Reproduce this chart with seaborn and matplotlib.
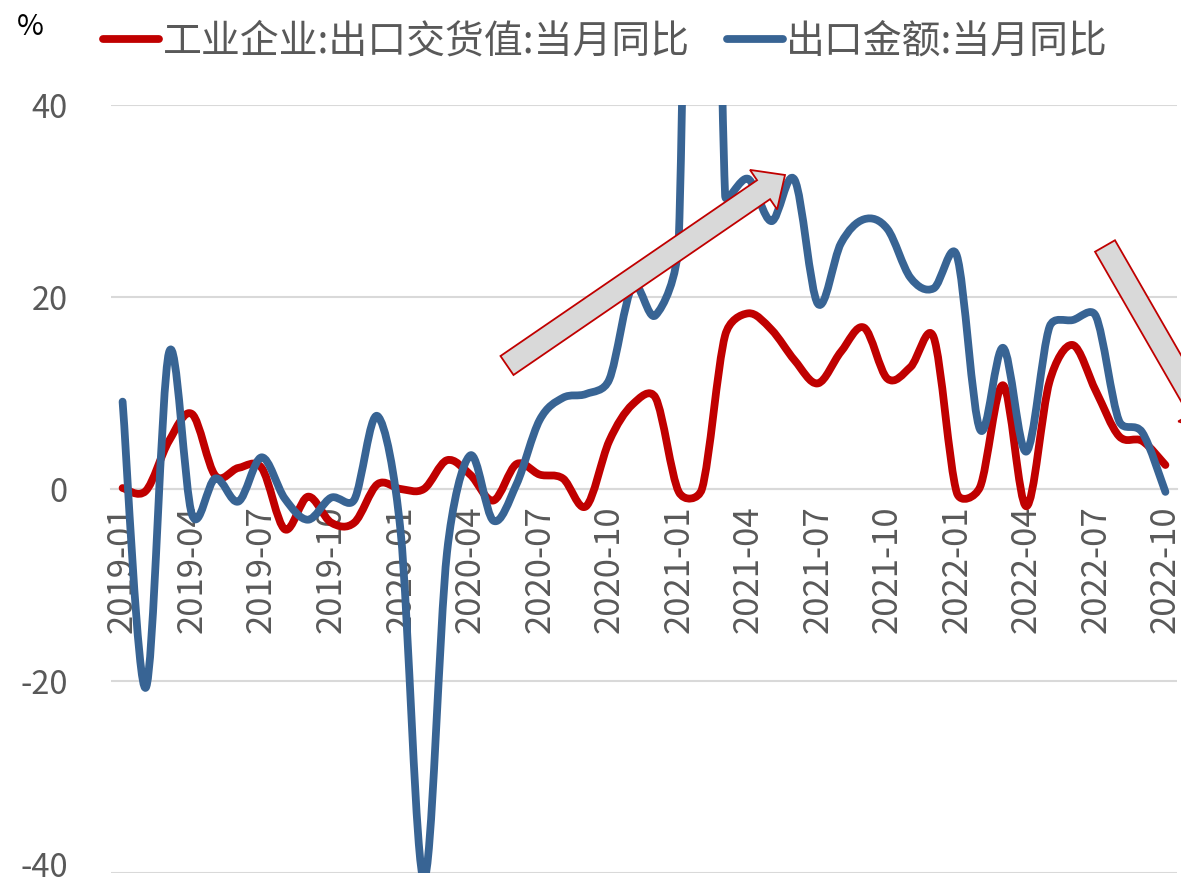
import numpy as np
import pandas as pd
import matplotlib
matplotlib.use("Agg")
import matplotlib.pyplot as plt
import seaborn as sns
from matplotlib.path import Path
from matplotlib.patches import PathPatch, FancyArrow
from matplotlib.lines import Line2D
from matplotlib.transforms import IdentityTransform, ScaledTranslation

# ---------------- data ----------------
months = [str(p) for p in pd.period_range("2019-01", "2022-10", freq="M")]

industrial_export_yoy = [
    0.1, -0.2, 5.0, 7.8, 1.4, 2.2, 2.2, -4.2, -0.8, -3.5, -3.5, 0.5,
    0.0, 0.0, 3.0, 1.5, -1.2, 2.6, 1.5, 1.1, -1.8, 5.0, 8.8, 9.5,
    -0.3, 0.0, 16.0, 18.3, 16.6, 13.4, 11.0, 14.3, 16.8, 11.5, 12.7, 15.8,
    -0.4, 0.2, 10.8, -1.8, 11.2, 15.0, 10.2, 5.5, 5.0, 2.5,
]
export_amount_yoy = [
    9.1, -20.7, 14.2, -2.7, 1.1, -1.3, 3.3, -1.0, -3.2, -0.9, -1.1, 7.6,
    -4.5, -40.6, -6.6, 3.5, -3.3, 0.5, 7.2, 9.5, 9.9, 11.4, 21.1, 18.1,
    26.0, 154.9, 30.6, 32.3, 27.9, 32.2, 19.3, 25.6, 28.1, 27.1, 22.0, 20.9,
    24.3, 6.2, 14.7, 3.9, 16.9, 17.6, 18.0, 7.1, 5.9, -0.3,
]
series_names = ["工业企业:出口交货值:当月同比", "出口金额:当月同比"]
series_colors = ["#C00000", "#386494"]
yticks = [-40, -20, 0, 20, 40]
ytick_labels = ["-40", "-20", "0", "20", "40"]

# ---------------- style ----------------
sns.set_style("white")
plt.rcParams["font.family"] = ["Noto Sans CJK SC", "DejaVu Sans"]
plt.rcParams["axes.unicode_minus"] = False

W, H = 1181, 885
fig = plt.figure(figsize=(W / 100, H / 100), dpi=100)
ax = fig.add_axes([111 / W, 12 / H, (1177 - 111) / W, (873 - 105) / H])

df = pd.DataFrame({
    "idx": np.arange(len(months)),
    "month": months,
    series_names[0]: industrial_export_yoy,
    series_names[1]: export_amount_yoy,
})

LW = 5.6
sx, sy = 23.17, 9.6  # screen px per x-unit / y-unit, for Excel-like smoothing


def smooth_path(xy):
    P = np.column_stack([xy[:, 0] * sx, xy[:, 1] * sy])
    n = len(P)
    verts = [P[0]]
    codes = [Path.MOVETO]
    for i in range(n - 1):
        p0 = P[i - 1] if i > 0 else P[i]
        p1, p2 = P[i], P[i + 1]
        p3 = P[i + 2] if i + 2 < n else P[i + 1]
        d02 = np.linalg.norm(p2 - p0)
        d12 = np.linalg.norm(p2 - p1)
        d13 = np.linalg.norm(p3 - p1)
        f0 = 1 / 6 if d02 / 6 < d12 / 2 else d12 / d02 / 2
        f1 = 1 / 6 if d13 / 6 < d12 / 2 else d12 / d13 / 2
        c1 = p1 + (p2 - p0) * f0
        c2 = p2 - (p3 - p1) * f1
        verts += [c1, c2, p2]
        codes += [Path.CURVE4] * 3
    V = np.array(verts) / np.array([sx, sy])
    return Path(V, codes)


for name, color, z in zip(series_names, series_colors, [3, 4]):
    sns.lineplot(data=df, x="idx", y=name, ax=ax, color=color, linewidth=LW,
                 legend=False, sort=True)
    line = ax.lines[-1]
    xy = np.asarray(line.get_xydata(), dtype=float)
    line.set_visible(False)
    patch = PathPatch(smooth_path(xy), facecolor="none", edgecolor=color,
                      linewidth=LW, capstyle="round", joinstyle="round", zorder=z)
    ax.add_patch(patch)

ax.set_xlim(-0.5, len(months) - 0.5)
ax.set_ylim(-40, 40)
ax.set_xlabel("")
ax.set_ylabel("")

# axes styling
for s in ["top", "right", "left"]:
    ax.spines[s].set_visible(False)
ax.spines["bottom"].set_position(("data", 0))
ax.spines["bottom"].set_color("#D9D9D9")
ax.spines["bottom"].set_linewidth(1.5)
ax.spines["bottom"].set_zorder(1)

ax.set_yticks(yticks)
ax.set_yticklabels(ytick_labels)
ax.yaxis.grid(True, color="#D9D9D9", linewidth=1.5)
ax.set_axisbelow(True)
ax.tick_params(axis="y", length=0, pad=31, labelsize=23.5, labelcolor="#595959")
# keep the lowest label inside the canvas
for lab in ax.get_yticklabels():
    if lab.get_text() == "-40":
        lab.set_transform(lab.get_transform() + ScaledTranslation(0, 6 / 72, fig.dpi_scale_trans))

major = np.arange(0, len(months), 3)
ax.set_xticks(major)
ax.set_xticklabels([months[i] for i in major], rotation=90, va="top", ha="center")
ax.set_xticks(np.arange(-0.5, len(months) - 0.5, 3), minor=True)
ax.tick_params(axis="x", which="major", length=0, pad=12, labelsize=25, labelcolor="#595959")
ax.tick_params(axis="x", which="minor", length=6.5, width=1.5, color="#D9D9D9", direction="out")

# legend
handles = [Line2D([], [], color=c, linewidth=LW, solid_capstyle="round") for c in series_colors]
fig.legend(handles, series_names, loc="center left", bbox_to_anchor=(103 / W, 1 - 42 / H),
           ncol=2, frameon=False, fontsize=28, handlelength=1.45, handletextpad=0.08,
           columnspacing=0.95, borderpad=0, borderaxespad=0, labelcolor="#595959")

fig.text(30 / W, 1 - 27 / H, "%", ha="center", va="center", fontsize=21, color="black")

# annotation arrows (pixel coordinates)
arrow_kw = dict(length_includes_head=True, facecolor="#D9D9D9", edgecolor="#C00000",
                linewidth=1.3, transform=IdentityTransform(), zorder=10, clip_on=False)
a1 = FancyArrow(507, H - 365.5, 278, -(175 - 365.5), width=23, head_width=48,
                head_length=26, **arrow_kw)
a2 = FancyArrow(1105, H - 246, 107, -(432 - 246), width=23, head_width=48,
                head_length=26, **arrow_kw)
fig.add_artist(a1)
fig.add_artist(a2)

fig.savefig("out.png", dpi=100)
